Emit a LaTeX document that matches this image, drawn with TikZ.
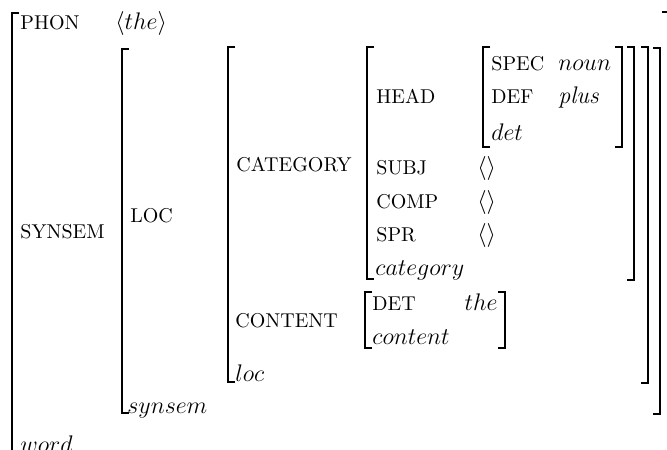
\documentclass[12pt,tikz,border=0pt]{standalone}
\usepackage{amsmath,amssymb}
\tikzset{
  attr/.style={anchor=base west,inner sep=0pt,font=\footnotesize},
  val/.style={anchor=base west,inner sep=0pt},
  brack/.style={line width=0.8pt},
}
\begin{document}
\begin{tikzpicture}[x=0.5pt,y=-0.5pt]
\clip (0,0) rectangle (667,449);

% word
\draw[brack] (19,13) -- (12,13) -- (12,470);
\draw[brack] (662,12) -- (669,12) -- (669,470);
\node[attr] (phon) at (20,30) {PHON};
\node[val] (phonv) at (115,30) {$\langle the\rangle$};
\node[attr] (synsem) at (20,238) {SYNSEM};
\node[val] (word) at (20,452) {$word$};

% synsem
\draw[brack] (129,49) -- (122,49) -- (122,413) -- (129,413);
\draw[brack] (653,48) -- (660,48) -- (660,414) -- (653,414);
\node[attr] (loc) at (130,222) {LOC};
\node[val] (synsemt) at (127,413) {$synsem$};

% loc
\draw[brack] (235,47) -- (228,47) -- (228,382) -- (235,382);
\draw[brack] (641,47) -- (648,47) -- (648,383) -- (641,383);
\node[attr] (cat) at (236,171) {CATEGORY};
\node[attr] (cont) at (235,327) {CONTENT};
\node[val] (loct) at (235,381) {$loc$};

% category
\draw[brack] (374,47) -- (367,47) -- (367,279) -- (374,279);
\draw[brack] (627,47) -- (634,47) -- (634,280) -- (627,280);
\node[attr] (head) at (376,104) {HEAD};
\node[attr] (subj) at (376,174) {SUBJ};
\node[attr] (comp) at (376,208) {COMP};
\node[attr] (spr) at (376,241) {SPR};
\node[val] (subjv) at (477,174) {$\langle\rangle$};
\node[val] (compv) at (477,208) {$\langle\rangle$};
\node[val] (sprv) at (477,241) {$\langle\rangle$};
\node[val] (catt) at (375,275) {$category$};

% head
\draw[brack] (490,47) -- (483,47) -- (483,147) -- (490,147);
\draw[brack] (615,47) -- (622,47) -- (622,147) -- (615,147);
\node[attr] (spec) at (491,70) {SPEC};
\node[attr] (def) at (491,104) {DEF};
\node[val] (specv) at (558,70) {$noun$};
\node[val] (defv) at (558,104) {\textit{plus}};
\node[val] (headt) at (491,140) {$det$};

% content
\draw[brack] (372,292) -- (365,292) -- (365,348) -- (372,348);
\draw[brack] (498,292) -- (505,292) -- (505,348) -- (498,348);
\node[attr] (det) at (372,310) {DET};
\node[val,anchor=base east] (detv) at (498,310) {$the$};
\node[val] (contt) at (372,344) {$content$};
\end{tikzpicture}
\end{document}
